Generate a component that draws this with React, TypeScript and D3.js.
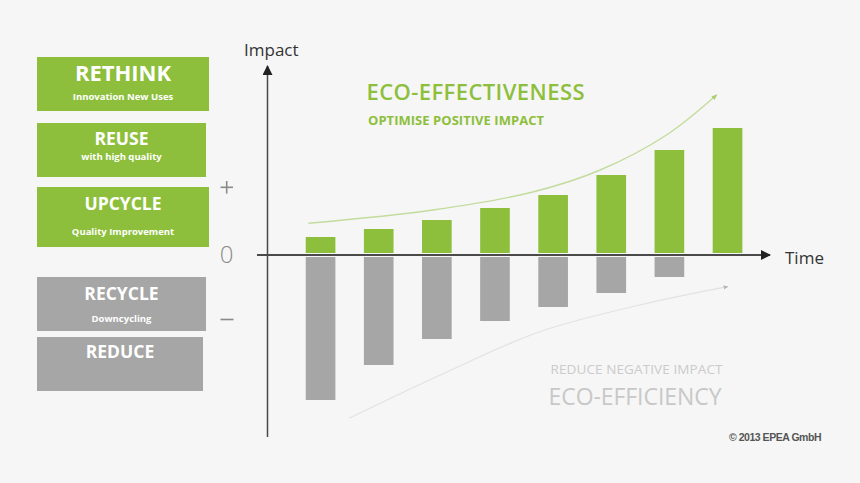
import React from "react";
import * as d3 from "d3";

const periods = [0, 1, 2, 3, 4, 5, 6, 7];
const positiveImpact = [18, 26, 35, 47, 60, 80, 105, 127];
const negativeImpact = [-145, -110, -84, -66, -52, -38, -22, 0];
// trend arrows in data coordinates: [period index, impact]
const effectivenessTrend: [number, number][] = [
  [-0.21, 31.7], [1.93, 45], [3.65, 63], [4.81, 85], [5.95, 120], [6.81, 160],
];
const efficiencyTrend: [number, number][] = [
  [0.49, -163.3], [2.06, -120], [3.77, -76.7], [5.49, -50], [7.0, -31.7],
];
const strategyBoxes = [
  { title: "RETHINK", sub: "Innovation New Uses", kind: "pos" },
  { title: "REUSE", sub: "with high quality", kind: "pos" },
  { title: "UPCYCLE", sub: "Quality Improvement", kind: "pos" },
  { title: "RECYCLE", sub: "Downcycling", kind: "neg" },
  { title: "REDUCE", sub: "", kind: "neg" },
];
const boxLayout = [
  { y0: 57, y1: 111, x1: 209, ty: 81, ts: 22, sy: 99.5 },
  { y0: 123, y1: 177, x1: 206, ty: 145, ts: 17.5, sy: 160 },
  { y0: 187, y1: 247, x1: 209, ty: 210, ts: 17.5, sy: 234.5 },
  { y0: 277, y1: 331, x1: 206, ty: 300, ts: 17.5, sy: 322 },
  { y0: 337, y1: 391, x1: 203, ty: 358, ts: 17.5, sy: 0 },
];

const GREEN = "#8dbf3c";
const GRAY = "#a6a6a6";
const FONT = "'Open Sans', 'Noto Sans', sans-serif";

export default function App() {
  const W = 860, H = 483;
  const x = d3.scaleBand<number>().domain(periods).range([291.5, 756.6]).paddingInner(0.49).paddingOuter(0.245);
  const y = d3.scaleLinear().domain([0, 127]).range([255, 128]);
  const xc = d3.scaleLinear().domain([0, 7]).range([x(0)! + x.bandwidth() / 2, x(7)! + x.bandwidth() / 2]);
  const line = d3.line<[number, number]>().x(d => xc(d[0])).y(d => y(d[1])).curve(d3.curveCatmullRom.alpha(0.5));
  const axisY = y(0);

  return (
    <div style={{ position: "fixed", left: 0, top: 0, width: W, height: H }}>
      <svg width={W} height={H} style={{ display: "block", fontFamily: FONT }}>
        <defs>
          <marker id="ah" viewBox="0 0 10 10" refX="9" refY="5" markerWidth="10" markerHeight="10" orient="auto" markerUnits="userSpaceOnUse">
            <path d="M0,0 L10,5 L0,10 z" fill="#222" />
          </marker>
          <marker id="agreen" viewBox="0 0 10 10" refX="8" refY="5" markerWidth="6" markerHeight="6" orient="auto" markerUnits="userSpaceOnUse">
            <path d="M0,1 L10,5 L0,9 z" fill="#a9cf73" />
          </marker>
          <marker id="agray" viewBox="0 0 10 10" refX="8" refY="5" markerWidth="5" markerHeight="5" orient="auto" markerUnits="userSpaceOnUse">
            <path d="M0,1 L10,5 L0,9 z" fill="#b5b5b5" />
          </marker>
        </defs>
        <rect x={0} y={0} width={W} height={H} fill="#f6f6f6" />

        {/* strategy boxes */}
        {strategyBoxes.map((b, i) => {
          const L = boxLayout[i];
          const cx = (37 + L.x1) / 2;
          return (
            <g key={b.title}>
              <rect x={37} y={L.y0} width={L.x1 - 37} height={L.y1 - L.y0} fill={b.kind === "pos" ? GREEN : GRAY} />
              <text x={cx} y={L.ty} textAnchor="middle" fill="#fff" fontWeight={700} fontSize={L.ts}>{b.title}</text>
              {b.sub && (
                <text x={cx} y={L.sy} textAnchor="middle" fill="#fff" fontWeight={700} fontSize={9.5}>{b.sub}</text>
              )}
            </g>
          );
        })}

        {/* +, 0, - */}
        <line x1={220.5} x2={233} y1={187.3} y2={187.3} stroke="#8a8a8a" strokeWidth={1.6} />
        <line x1={226.7} x2={226.7} y1={181} y2={193.6} stroke="#8a8a8a" strokeWidth={1.6} />
        <text x={226.7} y={262.5} textAnchor="middle" fill="#8a8a8a" fontSize={24} fontWeight={300}>0</text>
        <line x1={220.5} x2={233.5} y1={319.5} y2={319.5} stroke="#8a8a8a" strokeWidth={1.6} />

        {/* bars */}
        {periods.map((p, i) => (
          <rect key={"g" + p} x={x(p)} width={x.bandwidth()} y={y(positiveImpact[i])} height={Math.max(0, axisY - 2 - y(positiveImpact[i]))} fill={GREEN} />
        ))}
        {periods.map((p, i) => negativeImpact[i] < 0 ? (
          <rect key={"n" + p} x={x(p)} width={x.bandwidth()} y={axisY + 2} height={Math.max(0, y(negativeImpact[i]) - axisY - 2)} fill={GRAY} />
        ) : null)}

        {/* trend arrows */}
        <path d={line(effectivenessTrend) || ""} fill="none" stroke="#c3dc9d" strokeWidth={1.4} markerEnd="url(#agreen)" />
        <path d={line(efficiencyTrend) || ""} fill="none" stroke="#e2e2e2" strokeWidth={1.2} markerEnd="url(#agray)" />

        {/* axes */}
        <line x1={257} x2={770} y1={axisY} y2={axisY} stroke="#4a4a4a" strokeWidth={1.8} markerEnd="url(#ah)" />
        <line x1={267.5} x2={267.5} y1={437} y2={66} stroke="#4a4a4a" strokeWidth={1.5} markerEnd="url(#ah)" />
        <text x={244} y={56} fill="#333" fontSize={17}>Impact</text>
        <text x={785} y={263.5} fill="#333" fontSize={17}>Time</text>

        {/* titles */}
        <text x={366.5} y={100} fill={GREEN} fontSize={22} fontWeight={600} textLength={218} lengthAdjust="spacing">ECO-EFFECTIVENESS</text>
        <text x={368} y={125} fill={GREEN} fontSize={13} fontWeight={700} textLength={176} lengthAdjust="spacing">OPTIMISE POSITIVE IMPACT</text>
        <text x={550.5} y={374} fill="#cbcbcb" fontSize={13.5} textLength={172} lengthAdjust="spacing">REDUCE NEGATIVE IMPACT</text>
        <text x={548.5} y={405} fill="#c8c8c8" fontSize={23} textLength={173} lengthAdjust="spacing">ECO-EFFICIENCY</text>
        <text x={729} y={441} fill="#555" fontSize={10.5} fontWeight={700} fontFamily="'Liberation Sans', Arial, sans-serif" letterSpacing={-0.5} textLength={92} lengthAdjust="spacing">© 2013 EPEA GmbH</text>
      </svg>
    </div>
  );
}
